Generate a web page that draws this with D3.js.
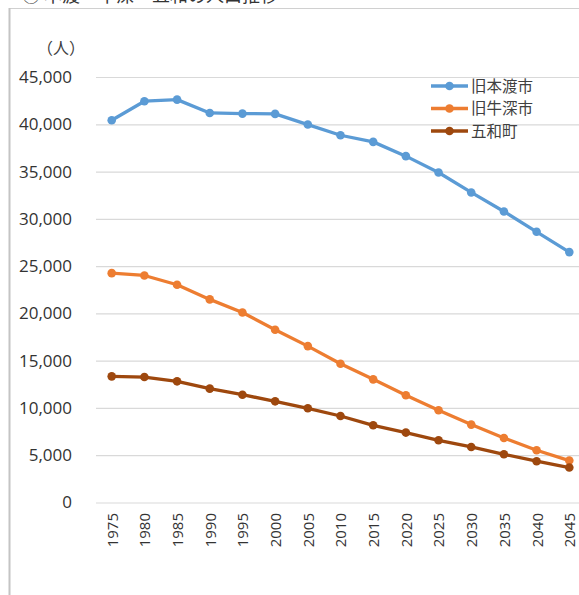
<!DOCTYPE html>
<html>
<head>
<meta charset="UTF-8">
<title>人口推移</title>
<style>
  body { margin: 0; background: #fff; }
  svg { display: block; }
  .tick text { fill: #333; }
</style>
</head>
<body>
<svg width="579" height="595"></svg>
<script src="https://d3js.org/d3.v7.min.js"></script>
<script>
  // data
  var years = [1975, 1980, 1985, 1990, 1995, 2000, 2005, 2010, 2015, 2020, 2025, 2030, 2035, 2040, 2045];
  var seriesNames = ["旧本渡市", "旧牛深市", "五和町"];
  var hondo = [40430, 42440, 42610, 41200, 41130, 41100, 39970, 38840, 38140, 36630, 34900, 32790, 30780, 28630, 26480];
  var ushibuka = [24255, 24010, 23030, 21480, 20100, 18275, 16540, 14680, 13025, 11335, 9750, 8240, 6825, 5525, 4435];
  var itsuwa = [13340, 13270, 12815, 12040, 11400, 10700, 9960, 9150, 8165, 7395, 6580, 5875, 5100, 4365, 3700];
  var yTicks = [0, 5000, 10000, 15000, 20000, 25000, 30000, 35000, 40000, 45000];
  var colors = ["#5b9bd5", "#ed7d31", "#9e480e"];

  var series = [hondo, ushibuka, itsuwa];

  var svg = d3.select("svg");

  // title, cut off at the top edge as in the picture
  svg.append("text")
    .attr("x", 22).attr("y", 2)
    .style("font-family", "'Noto Sans CJK JP'")
    .style("font-size", "18px")
    .attr("fill", "#333")
    .text("③ 本渡・牛深・五和の人口推移");

  // frame of the chart area
  svg.append("line")
    .attr("x1", 9).attr("x2", 579).attr("y1", 8.5).attr("y2", 8.5)
    .attr("stroke", "#d0d0d0").attr("stroke-width", 1);
  svg.append("line")
    .attr("x1", 9.5).attr("x2", 9.5).attr("y1", 8).attr("y2", 595)
    .attr("stroke", "#c4c4c4").attr("stroke-width", 2);

  var x = d3.scalePoint().domain(years).range([111.7, 569.3]);
  var y = d3.scaleLinear().domain([0, 45000]).range([502.5, 77]);
  var gridLeft = 96;

  // y axis + gridlines
  var yAxis = svg.append("g")
    .attr("transform", "translate(" + gridLeft + ",0)")
    .call(d3.axisLeft(y).tickValues(yTicks).tickSize(-(600 - gridLeft)).tickPadding(24)
      .tickFormat(d3.format(",")));
  yAxis.select(".domain").remove();
  yAxis.selectAll(".tick line").attr("stroke", "#d9d9d9").attr("stroke-width", 1.2);
  yAxis.selectAll(".tick text")
    .style("font-family", "'Open Sans'")
    .style("font-size", "17px");

  // x axis labels
  var xAxis = svg.append("g")
    .attr("transform", "translate(0," + y(0) + ")")
    .call(d3.axisBottom(x).tickSize(0));
  xAxis.select(".domain").remove();
  xAxis.selectAll(".tick text")
    .style("font-family", "'Open Sans'")
    .style("font-size", "15px")
    .attr("transform", "rotate(-90)")
    .attr("x", -10.5)
    .attr("y", 0)
    .attr("dy", "0.36em")
    .style("text-anchor", "end");

  // unit label
  svg.append("text")
    .attr("x", 37).attr("y", 54)
    .style("font-family", "'Noto Sans CJK JP'")
    .style("font-size", "16px")
    .attr("fill", "#404040")
    .text("（人）");

  var line = d3.line()
    .x(function(d, i) { return x(years[i]); })
    .y(function(d) { return y(d); });

  series.forEach(function(vals, k) {
    var g = svg.append("g");
    g.append("path")
      .datum(vals)
      .attr("d", line)
      .attr("fill", "none")
      .attr("stroke", colors[k])
      .attr("stroke-width", 3.3)
      .attr("stroke-linejoin", "round");
    g.selectAll("circle")
      .data(vals)
      .enter().append("circle")
      .attr("cx", function(d, i) { return x(years[i]); })
      .attr("cy", function(d) { return y(d); })
      .attr("r", 4.3)
      .attr("fill", colors[k]);
  });

  // legend
  var legend = svg.append("g");
  seriesNames.forEach(function(name, k) {
    var ly = 86 + k * 22.5;
    legend.append("line")
      .attr("x1", 431).attr("x2", 468).attr("y1", ly).attr("y2", ly)
      .attr("stroke", colors[k]).attr("stroke-width", 3.3);
    legend.append("circle")
      .attr("cx", 449.5).attr("cy", ly).attr("r", 4.3)
      .attr("fill", colors[k]);
    legend.append("text")
      .attr("x", 471).attr("y", ly)
      .attr("dy", "0.36em")
      .style("font-family", "'Noto Sans CJK JP'")
      .style("font-size", "15.5px")
      .attr("fill", "#404040")
      .text(name);
  });
</script>
</body>
</html>
